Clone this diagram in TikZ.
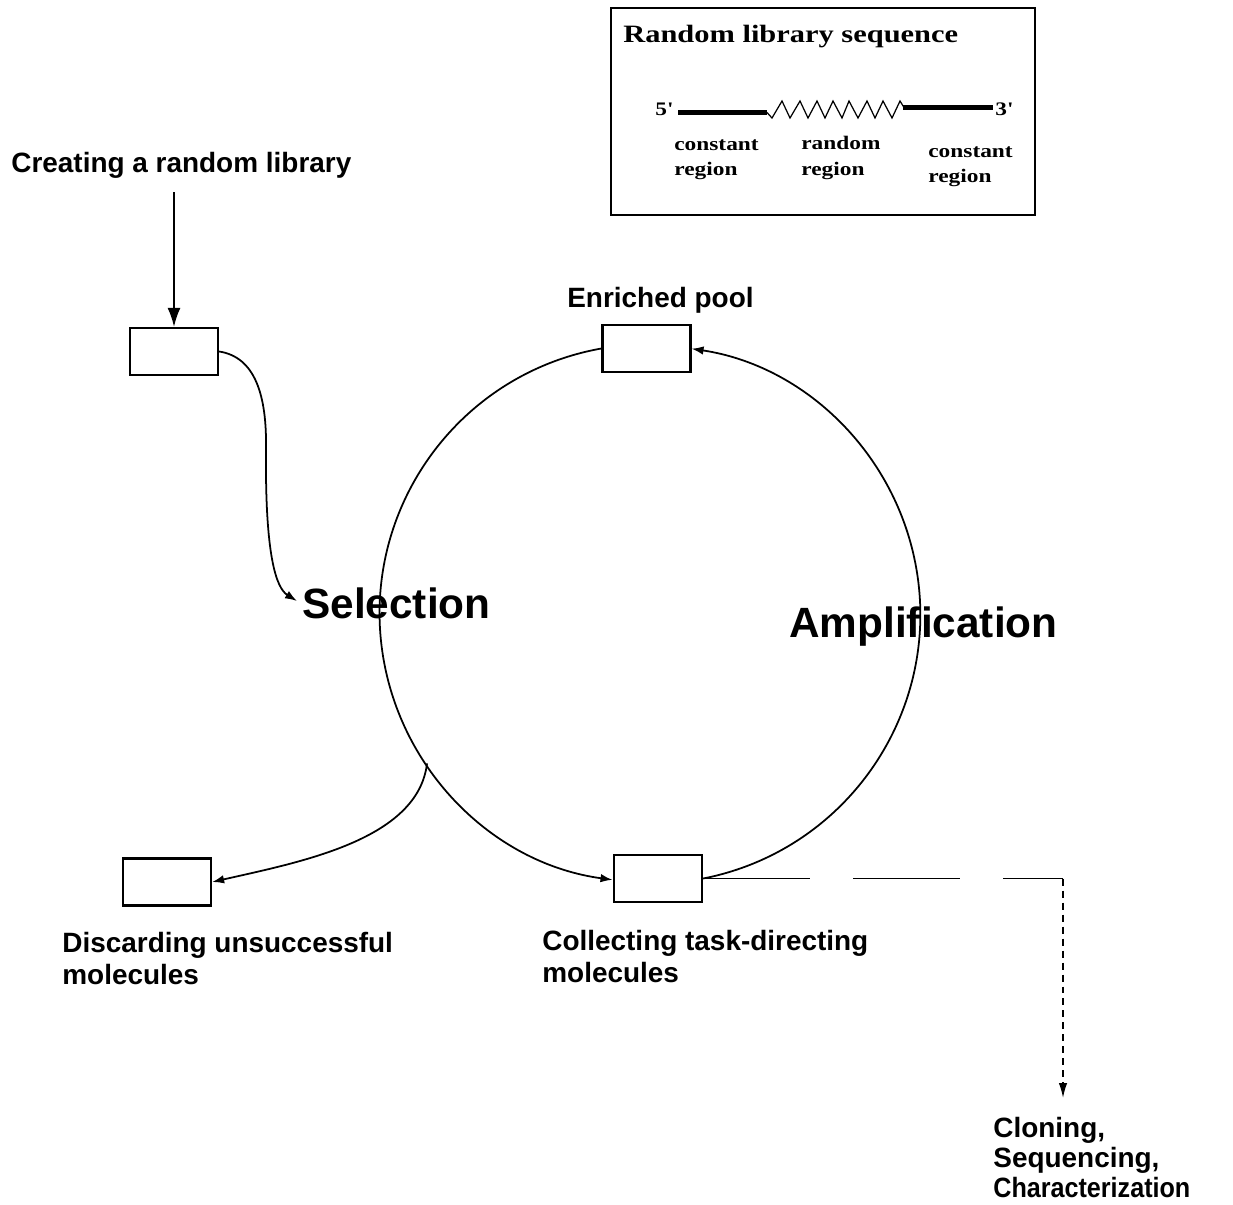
\documentclass[tikz,border=0pt]{standalone}
\usepackage{fontspec}
\newfontfamily\lsans{Liberation Sans}
\newfontfamily\lsanscond[FakeStretch=0.9]{Liberation Sans}
\newfontfamily\tserif[FakeStretch=1.22]{Liberation Serif}
\usetikzlibrary{arrows.meta,calc}
\begin{document}
\begin{tikzpicture}[x=0.02cm,y=-0.02cm,
  lbl/.style={font=\lsans\bfseries\fontsize{15.9}{18}\selectfont, inner sep=0pt, anchor=base west},
  big/.style={font=\lsans\bfseries\fontsize{24.1}{28}\selectfont, inner sep=0pt, anchor=base west},
  ser/.style={font=\tserif\bfseries\fontsize{10.9}{13}\selectfont, inner sep=0pt, anchor=base west},
  sertitle/.style={font=\tserif\bfseries\fontsize{14.2}{16}\selectfont, inner sep=0pt, anchor=base west},
  stepbox/.style={draw, line width=1.3pt, minimum width=1.76cm, minimum height=0.94cm, inner sep=0pt},
  conn/.style={line width=1.0pt},
  tipS/.style={-{Latex[length=0.24cm,width=0.17cm]}},
  tipL/.style={-{Latex[length=0.38cm,width=0.26cm]}}
]
\useasboundingbox (0,0) rectangle (1233,1204);

% legend box
\node[draw, line width=1.2pt, minimum width=8.48cm, minimum height=4.14cm, inner sep=0pt] (legend) at (823,111.5) {};
\node[sertitle] (ltitle) at (623,42) {Random library sequence};
\node[ser] (five) at (655,115) {5'};
\node[ser] (three) at (995,115) {3'};
\draw[line width=0.1cm] (678,112.5) -- (767,112.5);
\draw[line width=0.1cm] (903,107.5) -- (993,107.5);
\draw[line width=0.7pt, line join=miter]
  (767,112.5) -- (772,118) -- (782,101) -- (790,118) -- (800,101) -- (808,118)
  -- (817,101) -- (825,118) -- (833,101) -- (842,118) -- (849,101) -- (858,118)
  -- (867,101) -- (875,118) -- (883,101) -- (892,118) -- (900,101) -- (904,107.5);
\node[ser] (c1a) at (674,150) {constant};
\node[ser] (c1b) at (674,175) {region};
\node[ser] (r1a) at (801,149) {random};
\node[ser] (r1b) at (801,175) {region};
\node[ser] (c2a) at (928,157) {constant};
\node[ser] (c2b) at (928,182) {region};

% labels
\node[lbl] (create) at (11,172) {Creating a random library};
\node[lbl] (enr) at (567,307) {Enriched pool};
\node[big] (sel) at (302,618) {Selection};
\node[big] (amp) at (789,637) {Amplification};
\node[lbl] (disc1) at (62,952) {Discarding unsuccessful};
\node[lbl] (disc2) at (62,984) {molecules};
\node[lbl] (coll1) at (542,950) {Collecting task-directing};
\node[lbl] (coll2) at (542,982) {molecules};
\node[lbl] (clo1) at (993,1137) {Cloning,};
\node[lbl] (clo2) at (993,1167) {Sequencing,};
\node[lbl, font=\lsanscond\bfseries\fontsize{15.9}{18}\selectfont] (clo3) at (993,1197) {Characterization};

% boxes
\node[stepbox] (lib) at (174,351.5) {};
\node[stepbox] (disc) at (167,882) {};
\node[stepbox] (pool) at (646.5,348.5) {};
\node[stepbox] (coll) at (658,878.5) {};

% coordinates
\coordinate (c) at (650,613);
\coordinate (libin) at (174,192);
\coordinate (selin) at (297,601);
\coordinate (split) at ($(c)+(214:5.38cm)$);
\coordinate (corner) at (1063,878.5);
\coordinate (cloin) at (1063,1098);

% connectors
\draw[conn, tipL] (libin) -- (lib.north);
\draw[conn, tipS] (lib.east) .. controls (255,357) and (267,395) .. (266,450)
  .. controls (265,555) and (276,588) .. (selin);
\draw[conn, tipS] (pool.west) arc[start angle=100.1, end angle=262.3, radius=5.38cm];
\draw[conn, tipS] (coll.east) arc[start angle=-78.9, end angle=81.4, radius=5.38cm];
\draw[conn, tipS] (split) .. controls (418,840) and (300,862) .. (disc.east);
\draw[conn, dash pattern=on 2.14cm off 0.86cm] (coll.east) -- (corner);
\draw[line width=0.9pt, dash pattern=on 0.14cm off 0.1cm, -{Latex[length=0.3cm,width=0.17cm]}] (corner) -- (cloin);
\end{tikzpicture}
\end{document}
